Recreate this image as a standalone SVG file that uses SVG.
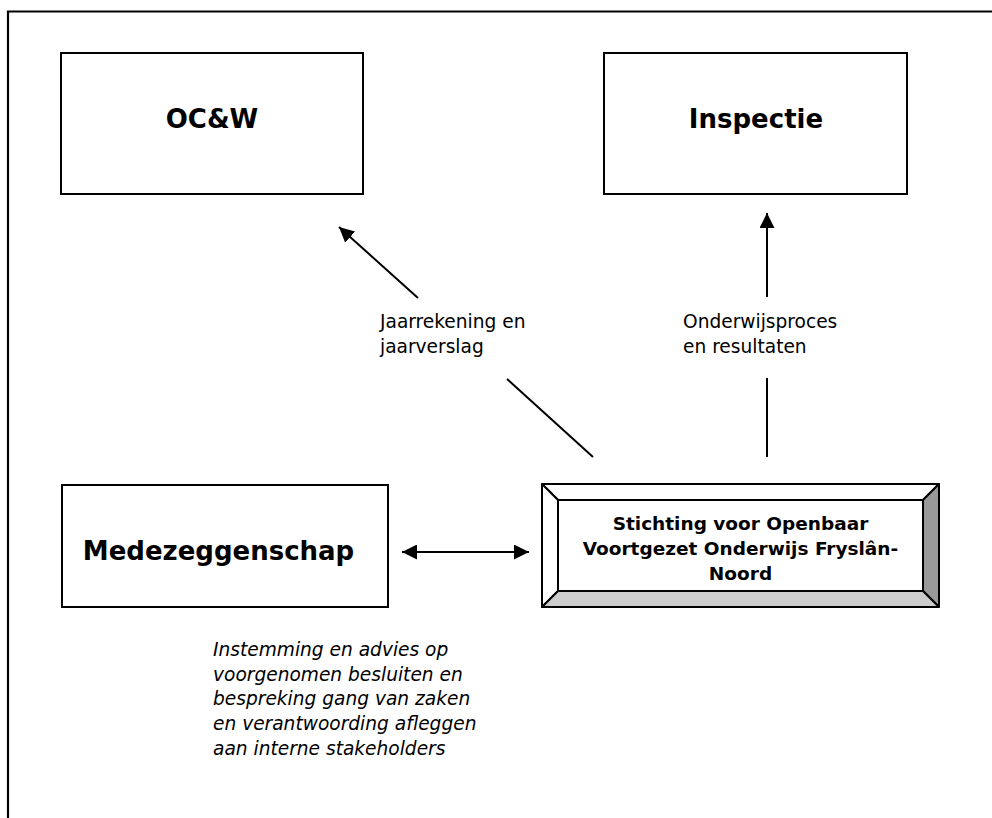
<svg xmlns="http://www.w3.org/2000/svg" width="992" height="818" viewBox="0 0 992 818">
<style>
.box{fill:#fff;stroke:#000;stroke-width:2}
.big{font-family:"DejaVu Sans","Liberation Sans",sans-serif;font-weight:bold;font-size:26px;fill:#000}
.mid{font-family:"DejaVu Sans","Liberation Sans",sans-serif;font-weight:bold;font-size:18.5px;fill:#000}
.lbl{font-family:"DejaVu Sans","Liberation Sans",sans-serif;font-size:18.6px;fill:#000}
.it{font-style:italic}
.con{stroke:#000;stroke-width:2;fill:none}
.frame{stroke:#000;stroke-width:2.2;fill:none}
</style>
<defs>
<marker id="ah" viewBox="0 0 15 15" refX="15" refY="7.5" markerWidth="15" markerHeight="15" markerUnits="userSpaceOnUse" orient="auto-start-reverse">
<path d="M0,0 L15,7.5 L0,15 z" fill="#000"/>
</marker>
</defs>
<rect width="992" height="818" fill="#fff"/>
<path class="frame" d="M8,818 L8,11.5 L992,11.5"/>

<g id="ocw">
<rect class="box" x="61" y="53" width="302" height="141"/>
<text class="big" x="212" y="128" text-anchor="middle">OC&amp;W</text>
</g>

<g id="inspectie">
<rect class="box" x="604" y="53" width="303" height="141"/>
<text class="big" x="756" y="128" text-anchor="middle">Inspectie</text>
</g>

<g id="medezeggenschap">
<rect class="box" x="62" y="485" width="326" height="122"/>
<text class="big" x="218.5" y="560" text-anchor="middle">Medezeggenschap</text>
</g>

<g id="stichting">
<polygon points="542,484 939,484 923,500 558,500" fill="#fff" stroke="#000" stroke-width="2" stroke-linejoin="round"/>
<polygon points="542,484 558,500 558,591 542,607" fill="#fff" stroke="#000" stroke-width="2" stroke-linejoin="round"/>
<polygon points="939,484 939,607 923,591 923,500" fill="#999" stroke="#000" stroke-width="2" stroke-linejoin="round"/>
<polygon points="542,607 939,607 923,591 558,591" fill="#ccc" stroke="#000" stroke-width="2" stroke-linejoin="round"/>
<rect x="558" y="500" width="365" height="91" fill="#fff" stroke="#000" stroke-width="2"/>
<text class="mid" text-anchor="middle"><tspan x="740.5" y="530">Stichting voor Openbaar</tspan><tspan x="740.5" y="555">Voortgezet Onderwijs Fryslân-</tspan><tspan x="740.5" y="580">Noord</tspan></text>
</g>

<g id="connectors">
<line class="con" x1="418" y1="298" x2="339" y2="227" marker-end="url(#ah)"/>
<line class="con" x1="507" y1="379" x2="593" y2="457"/>
<line class="con" x1="767" y1="297" x2="767" y2="213" marker-end="url(#ah)"/>
<line class="con" x1="767" y1="378" x2="767" y2="457"/>
<line class="con" x1="402" y1="552" x2="529" y2="552" marker-start="url(#ah)" marker-end="url(#ah)"/>
</g>

<g id="labels">
<text class="lbl"><tspan x="380" y="328">Jaarrekening en</tspan><tspan x="380" y="353">jaarverslag</tspan></text>
<text class="lbl"><tspan x="683" y="328">Onderwijsproces</tspan><tspan x="683" y="353">en resultaten</tspan></text>
<text class="lbl it"><tspan x="213" y="656">Instemming en advies op</tspan><tspan x="213" y="680.7">voorgenomen besluiten en</tspan><tspan x="213" y="705.4">bespreking gang van zaken</tspan><tspan x="213" y="730.1">en verantwoording afleggen</tspan><tspan x="213" y="754.8">aan interne stakeholders</tspan></text>
</g>
</svg>
